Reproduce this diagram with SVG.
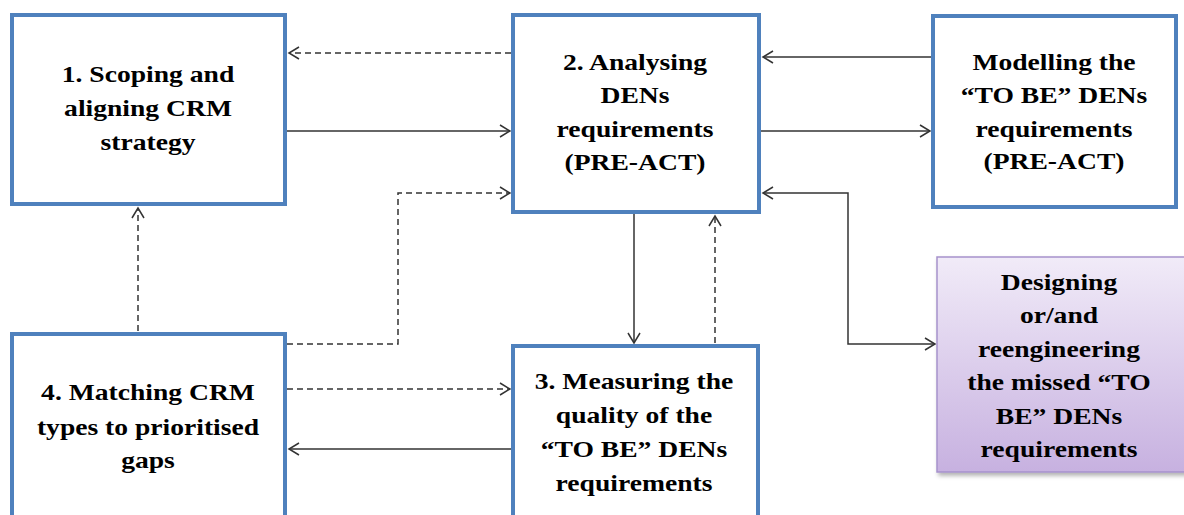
<svg xmlns="http://www.w3.org/2000/svg" width="1184" height="515" viewBox="0 0 1184 515">
<style>
.box{fill:#fff;stroke:#4f81bd;stroke-width:4}
.t{font-family:"Liberation Serif","Times New Roman",serif;font-weight:bold;font-size:23px;fill:#000;text-anchor:middle}
.c{fill:none;stroke:#333;stroke-width:1.5}
.d{stroke-dasharray:6 4}
</style>
<defs>
<marker id="ah" markerWidth="14" markerHeight="14" refX="11" refY="7" orient="auto-start-reverse" markerUnits="userSpaceOnUse">
<path d="M1,1 L11,7 L1,13" fill="none" stroke="#333" stroke-width="1.5"/>
</marker>
<linearGradient id="pg" x1="0" y1="0" x2="0" y2="1">
<stop offset="0" stop-color="#f1ebf8"/>
<stop offset="1" stop-color="#c7b1e0"/>
</linearGradient>
<filter id="sh" x="-10%" y="-10%" width="130%" height="130%">
<feDropShadow dx="2" dy="3" stdDeviation="2" flood-color="#000" flood-opacity="0.3"/>
</filter>
</defs>
<g id="connectors">
<line class="c d" x1="511" y1="53" x2="289" y2="53" marker-end="url(#ah)"/>
<line class="c" x1="287" y1="131" x2="510" y2="131" marker-end="url(#ah)"/>
<polyline class="c d" points="287,344 398,344 398,193 510,193" marker-end="url(#ah)"/>
<line class="c d" x1="138" y1="331" x2="138" y2="208" marker-end="url(#ah)"/>
<line class="c d" x1="287" y1="389" x2="510" y2="389" marker-end="url(#ah)"/>
<line class="c" x1="511" y1="449" x2="289" y2="449" marker-end="url(#ah)"/>
<line class="c" x1="634" y1="214" x2="634" y2="343" marker-end="url(#ah)"/>
<line class="c d" x1="715" y1="343" x2="715" y2="216" marker-end="url(#ah)"/>
<line class="c" x1="931" y1="57" x2="763" y2="57" marker-end="url(#ah)"/>
<line class="c" x1="761" y1="131" x2="930" y2="131" marker-end="url(#ah)"/>
<polyline class="c" points="763,193 848,193 848,344 935,344" marker-start="url(#ah)" marker-end="url(#ah)"/>
</g>
<g id="node1">
<rect class="box" x="12" y="15" width="273" height="189"/>
<g transform="translate(148,0) scale(1.2,1)">
<text class="t" x="0" y="82">1. Scoping and</text>
<text class="t" x="0" y="116">aligning CRM</text>
<text class="t" x="0" y="150">strategy</text>
</g>
</g>
<g id="node2">
<rect class="box" x="513" y="15" width="246" height="197"/>
<g transform="translate(635,0) scale(1.2,1)">
<text class="t" x="0" y="70">2. Analysing</text>
<text class="t" x="0" y="103">DENs</text>
<text class="t" x="0" y="137">requirements</text>
<text class="t" x="0" y="170">(PRE-ACT)</text>
</g>
</g>
<g id="node-modelling">
<rect class="box" x="933" y="16" width="243" height="191"/>
<g transform="translate(1054,0) scale(1.2,1)">
<text class="t" x="0" y="70">Modelling the</text>
<text class="t" x="0" y="103">“TO BE” DENs</text>
<text class="t" x="0" y="137">requirements</text>
<text class="t" x="0" y="169">(PRE-ACT)</text>
</g>
</g>
<g id="node4">
<rect class="box" x="12" y="334" width="273" height="200"/>
<g transform="translate(148,0) scale(1.2,1)">
<text class="t" x="0" y="400">4. Matching CRM</text>
<text class="t" x="0" y="435">types to prioritised</text>
<text class="t" x="0" y="468">gaps</text>
</g>
</g>
<g id="node3">
<rect class="box" x="513" y="346" width="245" height="200"/>
<g transform="translate(634,0) scale(1.2,1)">
<text class="t" x="0" y="389">3. Measuring the</text>
<text class="t" x="0" y="423">quality of the</text>
<text class="t" x="0" y="457">“TO BE” DENs</text>
<text class="t" x="0" y="491">requirements</text>
</g>
</g>
<g id="node-designing">
<rect x="937" y="257" width="260" height="215" fill="url(#pg)" stroke="#a692cc" stroke-width="1.5" filter="url(#sh)"/>
<g transform="translate(1059,0) scale(1.2,1)">
<text class="t" x="0" y="290">Designing</text>
<text class="t" x="0" y="323">or/and</text>
<text class="t" x="0" y="357">reengineering</text>
<text class="t" x="0" y="390">the missed “TO</text>
<text class="t" x="0" y="424">BE” DENs</text>
<text class="t" x="0" y="457">requirements</text>
</g>
</g>
</svg>
